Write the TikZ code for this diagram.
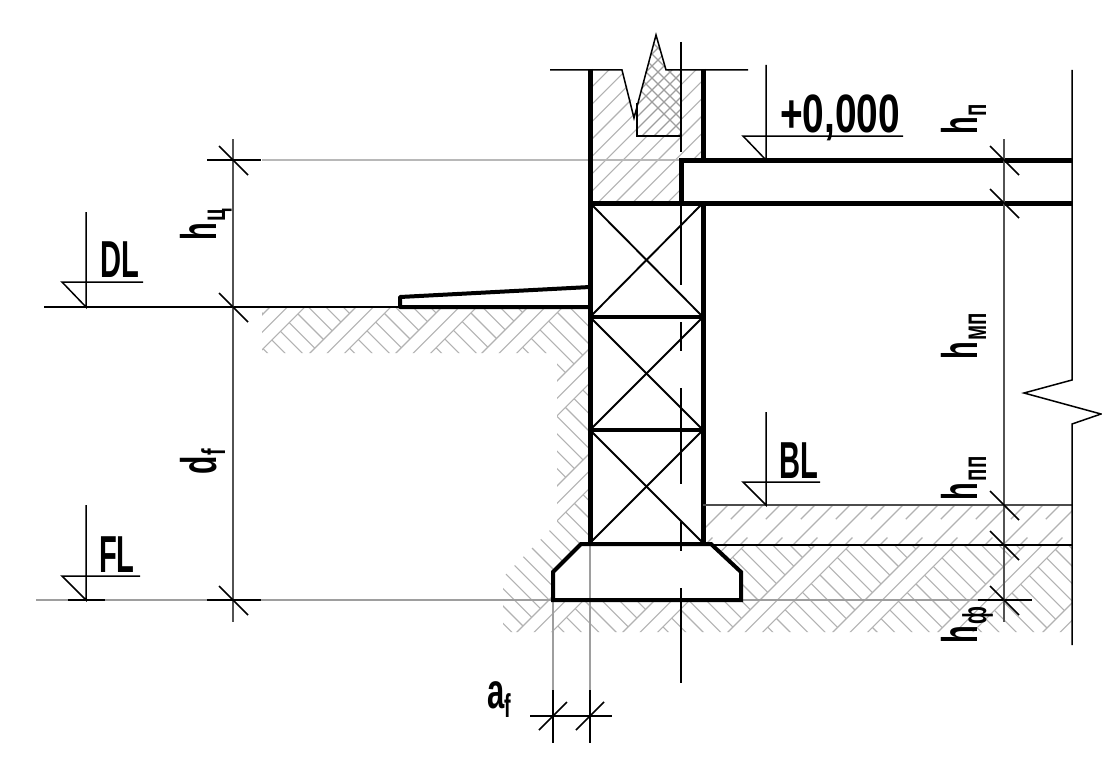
\documentclass[tikz,border=0pt]{standalone}
\usepackage{fontspec}
\setmainfont{Liberation Sans}
\newcommand{\capfont}{\fontsize{52}{52}\selectfont\bfseries}
\newcommand{\hfont}{\fontsize{50}{50}\selectfont\bfseries}
\newcommand{\subfont}{\fontsize{33}{33}\selectfont\bfseries}
\newcommand{\hlabel}[1]{\scalebox{0.58}[1]{\hfont h}\hspace{1pt}\raisebox{-9pt}{\scalebox{0.62}[1]{\subfont #1}}}
\tikzset{
  thin line/.style={line width=1.5pt,black},
  grey dim/.style={line width=1.6pt,black!68},
  ext line/.style={line width=1.3pt,black!28},
  ext mid/.style={line width=1.5pt,black!38},
  hatch/.style={line width=1.1pt,black!30},
  thick part/.style={line width=5pt,black},
  mid part/.style={line width=3.5pt,black},
  cross part/.style={line width=1.9pt,black},
  slash/.style={line width=1.7pt,black},
  lab/.style={inner sep=0pt,outer sep=0pt,black},
}
\begin{document}
\begin{tikzpicture}[x=1pt,y=-1pt]
\useasboundingbox[fill=white] (0,0) rectangle (1102,781);
% ground hatch
\begin{scope}
\clip (262,307)--(590,307)--(590,545)--(1072,545)--(1072,632)--(503,632)--(503,577)--(557,523)--(557,353)--(262,353)--cycle;
\foreach \a/\b in {490/577,577/663,663/749,749/835,835/938,938/1043,1043/1149,1149/1255,1255/1360,1360/1465,1465/1570,1570/1675,1675/1780}{
  \foreach \d in {0,17.4,34.8}{
    \draw[hatch] ({\a+\d-300},300)--({\a+\d-700},700);
  }
  \foreach \k in {-38,...,24}{
    \pgfmathsetmacro{\v}{-158+17.4*\k}
    \pgfmathsetmacro{\ua}{\a+34.8}
    \draw[hatch] ({(\ua-\v)/2},{(\ua+\v)/2})--({(\b-\v)/2},{(\b+\v)/2});
  }
}
\end{scope}
% floor hatch
\begin{scope}
\clip (703,505) rectangle (1072,545);
\foreach \k in {0,...,13}{
  \draw[hatch] ({1233+35*\k-400},400)--({1233+35*\k-600},600);
  \draw[hatch,dash pattern=on 20pt off 26pt] ({1250+35*\k-505},505)--({1250+35*\k-545},545);
}
\end{scope}
% wall hatch
\begin{scope}
\clip (590,70)--(622,70)--(637,118)--(637,136)--(681,136)--(681,70)--(703,70)--(703,160)--(681,160)--(681,203)--(590,203)--cycle;
\foreach \k in {-10,...,16}{
  \draw[hatch] ({818+17.4*\k-50},50)--({818+17.4*\k-250},250);
}
\end{scope}
% cross hatch
\begin{scope}
\clip (656,35)--(666,70)--(681,70)--(681,136)--(637,136)--(637,103)--cycle;
\foreach \k in {0,...,14}{
  \draw[hatch,black!38] ({650+12*\k},20)--({650+12*\k-140},160);
  \draw[hatch,black!38] ({570+12*\k},20)--({570+12*\k+140},160);
}
\end{scope}
% footing white
\fill[white] (553,600)--(553,572)--(581,544)--(711,544)--(741,572)--(741,600)--cycle;
% extension lines
\draw[ext line] (262,160)--(681,160);
\draw[ext mid] (36,600)--(978,600);
\draw[ext mid] (553,600)--(553,690);
\draw[ext mid] (590,490)--(590,690);
% axis
\foreach \p/\q in {42/152,205/285,322/351,388/484,522/551,588/683}{
  \draw[thin line,line width=1.7pt] (681,\p)--(681,\q);
}
% crosses in blocks
\foreach \p/\q in {203/317,317/430,430/543}{
  \draw[cross part] (590,\p)--(703,\q);
  \draw[cross part] (703,\p)--(590,\q);
}
% structure
\draw[thick part] (590,69)--(590,545);
\draw[thick part] (703,69)--(703,160);
\draw[thick part] (703,203)--(703,545);
\draw[thick part] (590,203)--(1072,203);
\draw[thick part] (1072,160)--(681,160)--(681,203);
\draw[mid part] (590,317)--(703,317);
\draw[mid part] (590,430)--(703,430);
\draw[line width=4pt,line join=miter] (553,600)--(553,572)--(581,544)--(711,544)--(741,572)--(741,600)--cycle;
\draw[line width=4pt,line join=round] (590,287)--(400,297)--(400,307)--(590,307);
% wall top and break
\draw[thin line] (550,70)--(622,70)--(634,118)--(656,35)--(666,70)--(748,70);
\draw[thin line] (637,103)--(637,136)--(681,136);
% floor lines
\draw[line width=1.5pt,black!70] (703,505)--(1072,505);
\draw[thin line] (711,545)--(1072,545);
\draw[thin line] (44,307)--(400,307);
% right break line
\draw[thin line,line join=miter] (1072,70)--(1072,380)--(1024,393)--(1101,414)--(1072,424)--(1072,645);
% left dim
\draw[grey dim] (233,139)--(233,622);
\draw[thin line] (207,160)--(261,160);
\draw[thin line] (207,600)--(261,600);
\draw[thin line] (68,600)--(105,600);
\draw[thin line] (978,600)--(1032,600);
\foreach \c in {160,307,600}{
  \draw[slash] (219,{\c-14})--(248,{\c+15});
}
% right dim
\draw[grey dim] (1004,139)--(1004,622);
\foreach \c in {160,203,505,545,600}{
  \draw[slash] (990,{\c-14})--(1019,{\c+15});
}
% bottom dim
\draw[thin line] (553,690)--(553,743);
\draw[thin line] (590,690)--(590,743);
\draw[thin line] (530,716)--(612,716);
\foreach \c in {553,590}{
  \draw[slash] ({\c-14},730)--({\c+14},702);
}
% level marks
\draw[thin line] (86,212)--(86,307)--(62,282)--(143,282);
\draw[thin line] (86,505)--(86,600)--(62,576)--(140,576);
\draw[thin line] (766,412)--(766,505)--(743,482)--(820,482);
\draw[thin line] (766,65)--(766,160)--(743,136)--(903,136);
% labels
\node[lab,anchor=base west] (dl) at (100,277) {\scalebox{0.56}[1]{\capfont DL}};
\node[lab,anchor=base west] (fl) at (99,572) {\scalebox{0.56}[1]{\capfont FL}};
\node[lab,anchor=base west] (bl) at (779,478) {\scalebox{0.56}[1]{\capfont BL}};
\node[lab,anchor=base west] (lvl) at (780,132) {\scalebox{0.72}[1]{\fontsize{54}{54}\selectfont\bfseries +0,000}};
\node[lab,anchor=base west,rotate=90] (hp) at (977,135) {\hlabel{п}};
\node[lab,anchor=base west,rotate=90] (hmp) at (977,359) {\hlabel{мп}};
\node[lab,anchor=base west,rotate=90] (hpp) at (977,500) {\hlabel{пп}};
\node[lab,anchor=base west,rotate=90] (hf) at (977,643) {\hlabel{ф}};
\node[lab,anchor=base west,rotate=90] (hc) at (216,240) {\hlabel{ц}};
\node[lab,anchor=base west,rotate=90] (df) at (216,474) {\scalebox{0.6}[1]{\hfont d}\raisebox{-9pt}{\scalebox{0.6}[1]{\subfont f}}};
\node[lab,anchor=base west] (af) at (487,708) {\scalebox{0.62}[1]{\fontsize{50}{50}\selectfont\bfseries a}\raisebox{-9pt}{\scalebox{0.6}[1]{\subfont f}}};
\end{tikzpicture}
\end{document}
